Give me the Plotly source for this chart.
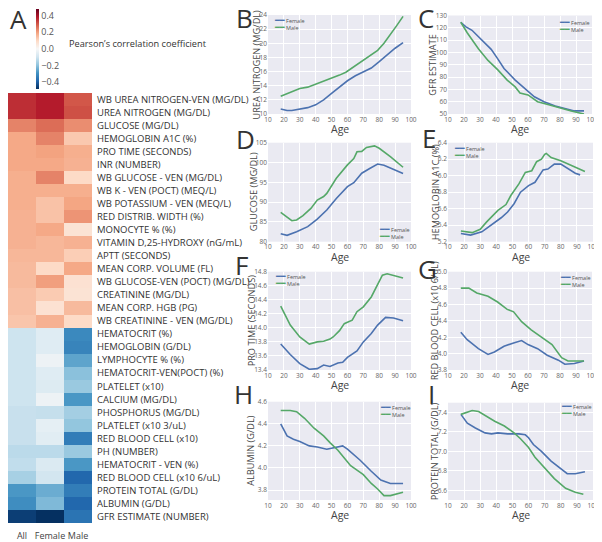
import plotly.graph_objects as go

# The page body has an 8 px default margin, so the figure is drawn at (8, 8)
# and sized to fill the rest of the 602x542 window.
WIN_W, WIN_H = 602, 542
OX, OY = 8, 8
W, H = WIN_W - OX, WIN_H - OY

# ---------------- heatmap data ----------------
rows = [
    "WB UREA NITROGEN-VEN (MG/DL)", "UREA NITROGEN (MG/DL)", "GLUCOSE (MG/DL)",
    "HEMOGLOBIN A1C (%)", "PRO TIME (SECONDS)", "INR (NUMBER)",
    "WB GLUCOSE - VEN (MG/DL)", "WB K - VEN (POCT) (MEQ/L)", "WB POTASSIUM - VEN (MEQ/L)",
    "RED DISTRIB. WIDTH (%)", "MONOCYTE % (%)", "VITAMIN D,25-HYDROXY (nG/mL)",
    "APTT (SECONDS)", "MEAN CORP. VOLUME (FL)", "WB GLUCOSE-VEN (POCT) (MG/DL)",
    "CREATININE (MG/DL)", "MEAN CORP. HGB (PG)", "WB CREATININE - VEN (MG/DL)",
    "HEMATOCRIT (%)", "HEMOGLOBIN (G/DL)", "LYMPHOCYTE % (%)",
    "HEMATOCRIT-VEN(POCT) (%)", "PLATELET (x10)", "CALCIUM (MG/DL)",
    "PHOSPHORUS (MG/DL)", "PLATELET (x10 3/uL)", "RED BLOOD CELL (x10)",
    "PH (NUMBER)", "HEMATOCRIT - VEN (%)", "RED BLOOD CELL (x10 6/uL)",
    "PROTEIN TOTAL (G/DL)", "ALBUMIN (G/DL)", "GFR ESTIMATE (NUMBER)",
]
groups = ["All", "Female", "Male"]
corr_all = [0.355, 0.355, 0.24, 0.185, 0.185, 0.185, 0.175, 0.175, 0.175, 0.17, 0.17,
            0.17, 0.16, 0.155, 0.155, 0.145, 0.145, 0.135,
            -0.10, -0.10, -0.10, -0.10, -0.10, -0.10, -0.11, -0.11, -0.11, -0.13,
            -0.12, -0.16, -0.28, -0.30, -0.455]
corr_female = [0.38, 0.38, 0.27, 0.24, 0.195, 0.185, 0.24, 0.175, 0.14, 0.14, 0.185,
               0.16, 0.16, 0.095, 0.20, 0.125, 0.075, 0.17,
               -0.06, -0.06, -0.025, -0.06, -0.065, -0.025, -0.115, -0.045, -0.055, -0.13,
               -0.07, -0.09, -0.24, -0.215, -0.48]
corr_male = [0.30, 0.31, 0.225, 0.13, 0.175, 0.17, 0.095, 0.175, 0.19, 0.215, 0.07,
             0.17, 0.12, 0.185, 0.075, 0.07, 0.155, 0.095,
             -0.31, -0.32, -0.255, -0.20, -0.18, -0.28, -0.165, -0.19, -0.335, -0.18,
             -0.28, -0.38, -0.335, -0.38, -0.355]
cbar_ticks = [-0.4, -0.2, 0.0, 0.2, 0.4]

# ---------------- line panel data ----------------
sexes = ["Female", "Male"]
sex_colors = ["#4c72b0", "#55a868"]

b_f_age = [18, 22, 25, 30, 35, 40, 45, 50, 55, 60, 65, 70, 75, 80, 85, 90, 95]
b_f = [10.7, 10.5, 10.5, 10.7, 10.9, 11.3, 12.0, 12.9, 13.8, 14.7, 15.4, 15.9, 16.5, 17.4, 18.4, 19.3, 20.1]
b_m_age = [18, 24, 30, 35, 41, 45, 50, 55, 59, 61, 64, 70, 75, 79, 83, 87, 91, 95]
b_m = [12.5, 13.1, 13.6, 13.8, 14.3, 14.6, 15.1, 15.5, 15.9, 16.2, 16.7, 17.6, 18.3, 19.0, 20.0, 21.2, 22.5, 23.8]

c_f_age = [18, 21, 25, 31, 37, 41, 45, 52, 58, 64, 70, 77, 83, 89, 95]
c_f = [124.5, 121, 118, 110, 102.5, 95, 87, 77.5, 71, 64, 60, 56.5, 54.5, 52.5, 52.5]
c_m_age = [18, 22, 29, 35, 41, 47, 52, 55, 60, 66, 73, 81, 87, 95]
c_m = [124.5, 116, 103, 93.5, 86, 77.5, 72, 67, 65.5, 60, 57.5, 54.5, 52.5, 50]

d_f_age = [18, 22, 28, 35, 41, 47, 53, 60, 64, 69, 74, 79, 83, 88, 95]
d_f = [82, 81.6, 82.5, 83.8, 85.7, 88, 90.9, 93.9, 94.9, 97.3, 98.5, 99.6, 99.3, 98.4, 97.2]
d_m_age = [18, 22, 25, 28, 32, 37, 41, 45, 47, 53, 60, 64, 66, 69, 72, 77, 80, 87, 95]
d_m = [87.4, 86.1, 85.3, 85.5, 86.6, 88.4, 90.5, 91.4, 92.2, 96, 99.4, 101, 102.7, 102.8, 103.8, 104.2, 103.6, 101.5, 98.8]

e_f_age = [18, 24, 31, 37, 43, 47, 51, 55, 60, 64, 69, 72, 76, 80, 85, 89, 92]
e_f = [5.30, 5.28, 5.32, 5.40, 5.49, 5.56, 5.66, 5.80, 5.88, 5.92, 6.07, 6.08, 6.14, 6.14, 6.08, 6.03, 6.01]
e_m_age = [18, 25, 30, 34, 41, 46, 49, 54, 58, 62, 65, 68, 70, 71, 74, 80, 87, 95]
e_m = [5.33, 5.31, 5.35, 5.44, 5.58, 5.65, 5.76, 5.90, 6.04, 6.06, 6.17, 6.20, 6.26, 6.27, 6.22, 6.18, 6.12, 6.05]

f_f_age = [18, 24, 30, 36, 41, 45, 49, 54, 57, 60, 66, 70, 75, 79, 84, 89, 95]
f_f = [13.77, 13.62, 13.49, 13.41, 13.42, 13.47, 13.45, 13.50, 13.51, 13.58, 13.67, 13.80, 13.92, 14.04, 14.15, 14.14, 14.10]
f_m_age = [18, 24, 30, 36, 41, 45, 49, 51, 55, 58, 60, 63, 66, 70, 75, 79, 82, 85, 95]
f_m = [14.31, 14.04, 13.87, 13.77, 13.80, 13.81, 13.84, 13.87, 13.96, 14.06, 14.08, 14.11, 14.23, 14.30, 14.44, 14.61, 14.75, 14.77, 14.71]

g_f_age = [18, 22, 29, 35, 39, 45, 51, 56, 60, 66, 72, 79, 83, 89, 95]
g_f = [4.26, 4.17, 4.06, 3.99, 4.02, 4.09, 4.13, 4.16, 4.11, 4.06, 3.98, 3.92, 3.87, 3.88, 3.91]
g_m_age = [18, 23, 28, 35, 41, 47, 51, 56, 62, 68, 75, 81, 85, 91, 95]
g_m = [4.80, 4.80, 4.74, 4.70, 4.63, 4.54, 4.51, 4.39, 4.29, 4.21, 4.11, 3.95, 3.91, 3.91, 3.91]

h_f_age = [18, 22, 26, 30, 36, 41, 47, 51, 57, 60, 64, 68, 75, 81, 87, 95]
h_f = [4.40, 4.29, 4.26, 4.24, 4.20, 4.19, 4.17, 4.18, 4.20, 4.17, 4.12, 4.07, 3.97, 3.89, 3.86, 3.86]
h_m_age = [18, 24, 28, 33, 39, 45, 49, 54, 58, 62, 66, 70, 75, 79, 83, 87, 95]
h_m = [4.52, 4.52, 4.51, 4.45, 4.36, 4.29, 4.23, 4.16, 4.09, 4.02, 3.98, 3.94, 3.86, 3.81, 3.75, 3.75, 3.78]

i_f_age = [18, 22, 27, 33, 37, 41, 47, 54, 58, 60, 63, 68, 74, 78, 84, 89, 95]
i_f = [7.38, 7.29, 7.24, 7.19, 7.18, 7.19, 7.18, 7.18, 7.17, 7.14, 7.07, 7.00, 6.90, 6.85, 6.77, 6.77, 6.79]
i_m_age = [18, 25, 29, 33, 39, 45, 51, 55, 60, 64, 70, 76, 83, 89, 94]
i_m = [7.38, 7.42, 7.41, 7.37, 7.31, 7.26, 7.19, 7.13, 7.04, 6.94, 6.83, 6.72, 6.62, 6.58, 6.56]

FONT = "Open Sans, DejaVu Sans, sans-serif"
TXT = "#333333"
TICK = "#666666"


def px(x):
    """window pixel x -> paper fraction"""
    return (x - OX) / W


def py(y):
    """window pixel y -> paper fraction"""
    return 1 - (y - OY) / H


panels = [
    dict(letter="B", ytitle="UREA NITROGEN (MG/DL)", series=[(b_f_age, b_f), (b_m_age, b_m)],
         yr=[10, 24], dt=2, t0=10, fmt="d", dom=(268, 411, 15, 114), leg=(272, 24), lpos=(234, 18), yt=-12),
    dict(letter="C", ytitle="GFR ESTIMATE", series=[(c_f_age, c_f), (c_m_age, c_m)],
         yr=[50, 130], dt=10, t0=50, fmt="d", dom=(448, 592, 15.5, 114), leg=(557, 26), lpos=(416, 18), yt=-15),
    dict(letter="D", ytitle="GLUCOSE (MG/DL)", series=[(d_f_age, d_f), (d_m_age, d_m)],
         yr=[80, 105], dt=5, t0=80, fmt="d", dom=(268, 411, 142.7, 241.7), leg=(377, 233), lpos=(234, 139), yt=-15),
    dict(letter="E", ytitle="HEMOGLOBIN A1C (%)", series=[(e_f_age, e_f), (e_m_age, e_m)],
         yr=[5.2, 6.4], dt=0.2, t0=5.2, fmt=".1f", dom=(448, 593, 142.7, 241.7), leg=(452, 152), lpos=(420, 138), yt=-13),
    dict(letter="F", ytitle="PRO TIME (SECONDS)", series=[(f_f_age, f_f), (f_m_age, f_m)],
         yr=[13.4, 14.8], dt=0.2, t0=13.4, fmt=".1f", dom=(268, 411, 271.7, 370), leg=(273, 279.7), lpos=(233, 265), yt=-16.5),
    dict(letter="G", ytitle="RED BLOOD CELL (x10 6/uL)", series=[(g_f_age, g_f), (g_m_age, g_m)],
         yr=[3.8, 5.0], dt=0.2, t0=3.8, fmt=".1f", dom=(448, 592, 271.7, 370), leg=(558, 281.3), lpos=(416, 269), yt=-13.5),
    dict(letter="H", ytitle="ALBUMIN (G/DL)", series=[(h_f_age, h_f), (h_m_age, h_m)],
         yr=[3.71, 4.6], dt=0.2, t0=3.8, fmt=".1f", dom=(268, 411, 401.7, 500), leg=(378, 411.2), lpos=(232, 394), yt=-17),
    dict(letter="I", ytitle="PROTEIN TOTAL (G/DL)", series=[(i_f_age, i_f), (i_m_age, i_m)],
         yr=[6.5, 7.5], dt=0.2, t0=6.6, fmt=".1f", dom=(448, 593, 402.7, 500), leg=(559, 410.3), lpos=(426, 394), yt=-14),
]

fig = go.Figure()

z = [[a, f, m] for a, f, m in zip(corr_all, corr_female, corr_male)]
fig.add_trace(go.Heatmap(
    z=z, x=groups, y=rows, colorscale="RdBu", reversescale=True, zmin=-0.48, zmax=0.48,
    hoverinfo="skip",
    colorbar=dict(x=px(35.5), xanchor="left", xref="paper", y=py(49), yanchor="middle", yref="paper",
                  len=80 / H, lenmode="fraction", thickness=3, outlinewidth=0, xpad=0, ypad=0,
                  tickvals=cbar_ticks, tickformat=".1f", ticks="", ticklen=0, ticklabeloverflow="allow",
                  tickfont=dict(family=FONT, size=9, color="#555555")),
    xaxis="x", yaxis="y",
))

layout = dict(
    template="none",
    width=W, height=H, autosize=False,
    margin=dict(l=0, r=0, t=0, b=0, pad=0),
    paper_bgcolor="white", plot_bgcolor="#eaeaf2",
    font=dict(family=FONT, color=TXT),
    showlegend=False,
    xaxis=dict(domain=[px(8), px(92)], anchor="y", showgrid=False, zeroline=False, showline=False, ticks="",
               automargin=False, tickangle=0,
               tickfont=dict(family=FONT, size=9, color="#444444"), ticklabelstandoff=6, fixedrange=True),
    yaxis=dict(domain=[py(523), py(93)], anchor="x", side="right", autorange="reversed", showgrid=False,
               zeroline=False, showline=False, ticks="", automargin=False,
               tickfont=dict(family=FONT, size=9.5, color="#333333"),
               ticklabelstandoff=4, fixedrange=True),
)

annotations = []
annotations.append(dict(text="A", x=px(8), y=py(19), xref="paper", yref="paper", xanchor="left", yanchor="middle",
                        showarrow=False, font=dict(family=FONT, size=26, color=TXT)))
annotations.append(dict(text="Pearson\u2019s correlation coefficient", x=px(67), y=py(44), xref="paper", yref="paper",
                        xanchor="left", yanchor="middle", showarrow=False, font=dict(family=FONT, size=9.2, color=TXT)))

for i, p in enumerate(panels):
    n = i + 2
    xa, ya = f"x{n}", f"y{n}"
    x0, x1, y0, y1 = p["dom"]
    for (ages, vals), name, col in zip(p["series"], sexes, sex_colors):
        fig.add_trace(go.Scatter(x=ages, y=vals, mode="lines", name=name,
                                 line=dict(color=col, width=1.6), xaxis=xa, yaxis=ya, hoverinfo="skip"))
    layout[f"xaxis{n}"] = dict(domain=[px(x0), px(x1)], anchor=ya, range=[10, 100], dtick=10, tick0=10,
                               showgrid=True, gridcolor="white", gridwidth=1.2, zeroline=False, showline=False,
                               ticks="", ticklen=0, ticklabelstandoff=0, automargin=False, tickangle=0,
                               tickfont=dict(family=FONT, size=6.5, color=TICK), fixedrange=True)
    layout[f"yaxis{n}"] = dict(domain=[py(y1), py(y0)], anchor=xa, range=p["yr"], dtick=p["dt"], tick0=p["t0"],
                               tickformat=p["fmt"], showgrid=True, gridcolor="white", gridwidth=1.2,
                               zeroline=False, showline=False, ticks="", ticklen=0, ticklabelstandoff=0,
                               automargin=False,
                               tickfont=dict(family=FONT, size=6.5, color=TICK), fixedrange=True)
    # axis titles
    annotations.append(dict(text="Age", x=0.5, y=-15 / (y1 - y0), xref=f"{xa} domain", yref=f"{ya} domain",
                            xanchor="center", yanchor="middle", showarrow=False,
                            font=dict(family=FONT, size=10.5, color="#444444")))
    annotations.append(dict(text=p["ytitle"], x=p["yt"] / (x1 - x0), y=0.5, xref=f"{xa} domain",
                            yref=f"{ya} domain", xanchor="center", yanchor="middle", textangle=-90,
                            showarrow=False, font=dict(family=FONT, size=9.2, color="#444444")))
    # panel letter
    lx, ly = p["lpos"]
    annotations.append(dict(text=p["letter"], x=px(lx), y=py(ly), xref="paper", yref="paper",
                            xanchor="left", yanchor="middle", showarrow=False,
                            font=dict(family=FONT, size=26, color=TXT)))
    # legend block (one text with one line per series)
    gx, gy = p["leg"]
    legend_text = "<br>".join(
        f"<span style='color:{col};font-family:DejaVu Sans;font-size:8px'>\u2501\u2501</span> {name}"
        for name, col in zip(sexes, sex_colors))
    annotations.append(dict(text=legend_text, x=px(gx), y=py(gy), xref="paper", yref="paper",
                            xanchor="left", yanchor="middle", align="left", showarrow=False,
                            font=dict(family=FONT, size=5.5, color="#555555")))

layout["annotations"] = annotations
fig.update_layout(**layout)
fig.write_html("out.html")
